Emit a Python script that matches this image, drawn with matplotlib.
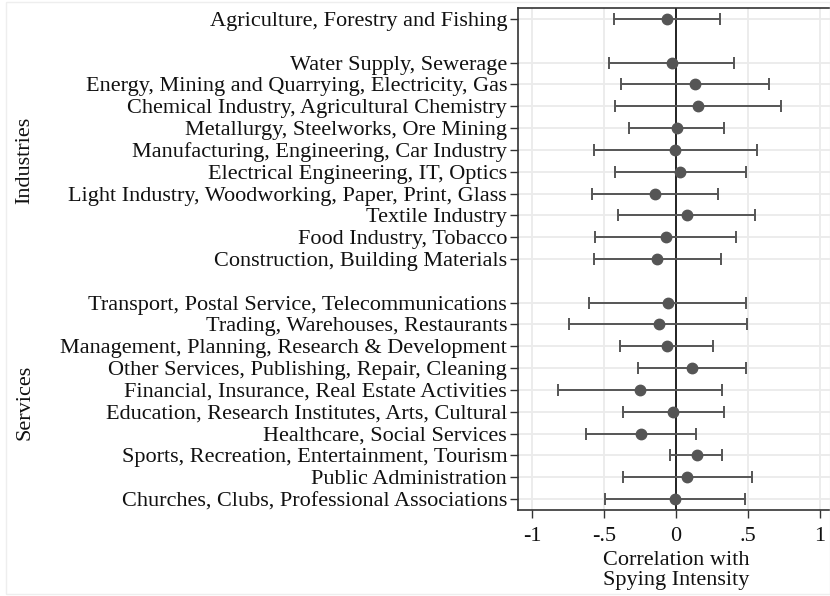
import matplotlib
matplotlib.use("Agg")
import matplotlib.pyplot as plt
from matplotlib.patches import Rectangle

plt.rcParams['font.family'] = ['Liberation Serif', 'DejaVu Serif']

agri_label = ["Agriculture, Forestry and Fishing"]
agri_est = [-0.065]
agri_lo = [-0.428]
agri_hi = [0.306]

industry_labels = [
    "Water Supply, Sewerage",
    "Energy, Mining and Quarrying, Electricity, Gas",
    "Chemical Industry, Agricultural Chemistry",
    "Metallurgy, Steelworks, Ore Mining",
    "Manufacturing, Engineering, Car Industry",
    "Electrical Engineering, IT, Optics",
    "Light Industry, Woodworking, Paper, Print, Glass",
    "Textile Industry",
    "Food Industry, Tobacco",
    "Construction, Building Materials",
]
industry_est = [-0.030, 0.132, 0.153, 0.005, -0.005, 0.030, -0.146, 0.074, -0.072, -0.132]
industry_lo = [-0.463, -0.384, -0.421, -0.326, -0.569, -0.424, -0.583, -0.403, -0.563, -0.567]
industry_hi = [0.405, 0.644, 0.727, 0.336, 0.565, 0.488, 0.294, 0.549, 0.419, 0.310]

service_labels = [
    "Transport, Postal Service, Telecommunications",
    "Trading, Warehouses, Restaurants",
    "Management, Planning, Research & Development",
    "Other Services, Publishing, Repair, Cleaning",
    "Financial, Insurance, Real Estate Activities",
    "Education, Research Institutes, Arts, Cultural",
    "Healthcare, Social Services",
    "Sports, Recreation, Entertainment, Tourism",
    "Public Administration",
    "Churches, Clubs, Professional Associations",
]
service_est = [-0.058, -0.120, -0.065, 0.109, -0.248, -0.023, -0.241, 0.144, 0.079, -0.007]
service_lo = [-0.604, -0.743, -0.391, -0.266, -0.822, -0.366, -0.623, -0.044, -0.370, -0.495]
service_hi = [0.486, 0.495, 0.259, 0.488, 0.322, 0.331, 0.141, 0.322, 0.528, 0.481]

xticks = [-1, -0.5, 0, 0.5, 1]
xticklabels = ["-1", "-.5", "0", ".5", "1"]

# row positions: Agriculture, blank, industries, blank, services
labels = agri_label + industry_labels + service_labels
est = agri_est + industry_est + service_est
lo = agri_lo + industry_lo + service_lo
hi = agri_hi + industry_hi + service_hi
pos = [0] + [2 + i for i in range(len(industry_labels))] + \
      [3 + len(industry_labels) + i for i in range(len(service_labels))]

FS = 16
W, H = 830, 596
fig = plt.figure(figsize=(W / 100, H / 100), dpi=100)
fig.patches.append(Rectangle((6 / W, 2 / H), (W - 6) / W, (H - 4) / H,
                             transform=fig.transFigure, fill=False,
                             edgecolor='#eeeeee', linewidth=1.0))

ax = fig.add_axes([517.6 / W, 86 / H, 316.8 / W, 502 / H])
ax.set_xlim(-1.1, 1.1)
ax.set_ylim(max(pos) + 0.5, -0.5)

grid_c = '#ebebeb'
for t in xticks:
    ax.axvline(t, color=grid_c, lw=1.3, zorder=0)
for p in pos:
    ax.axhline(p, color=grid_c, lw=1.3, zorder=0)
ax.axvline(0, color='#222222', lw=1.4, zorder=1)

mc = '#555555'
xerr = [[e - l for e, l in zip(est, lo)], [h - e for e, h in zip(est, hi)]]
ax.errorbar(est, pos, xerr=xerr, fmt='o', color=mc, ecolor=mc,
            elinewidth=1.4, capsize=4.2, capthick=1.4, markersize=7.5,
            zorder=3)

ax.set_yticks(pos)
ax.set_yticklabels(labels, fontsize=FS, color='#111111')
ax.set_xticks(xticks)
ax.set_xticklabels(xticklabels, fontsize=FS, color='#111111')
ax.tick_params(axis='both', direction='out', color='#333333', length=6, width=1.0)
ax.tick_params(axis='y', pad=1.5)
ax.tick_params(axis='x', pad=6.3)

for s in ['right']:
    ax.spines[s].set_visible(False)
for s in ['left', 'bottom', 'top']:
    ax.spines[s].set_color('#333333')
    ax.spines[s].set_linewidth(1.2)

ax.set_xlabel("Correlation with\nSpying Intensity", fontsize=FS,
              color='#111111', linespacing=1.1, labelpad=3.5)

fig.text(25 / W, 1 - 160 / H, "Industries", rotation=90, ha='center',
         va='center', fontsize=FS, color='#111111')
fig.text(25 / W, 1 - 402 / H, "Services", rotation=90, ha='center',
         va='center', fontsize=FS, color='#111111')

fig.savefig("out.png", dpi=100)
